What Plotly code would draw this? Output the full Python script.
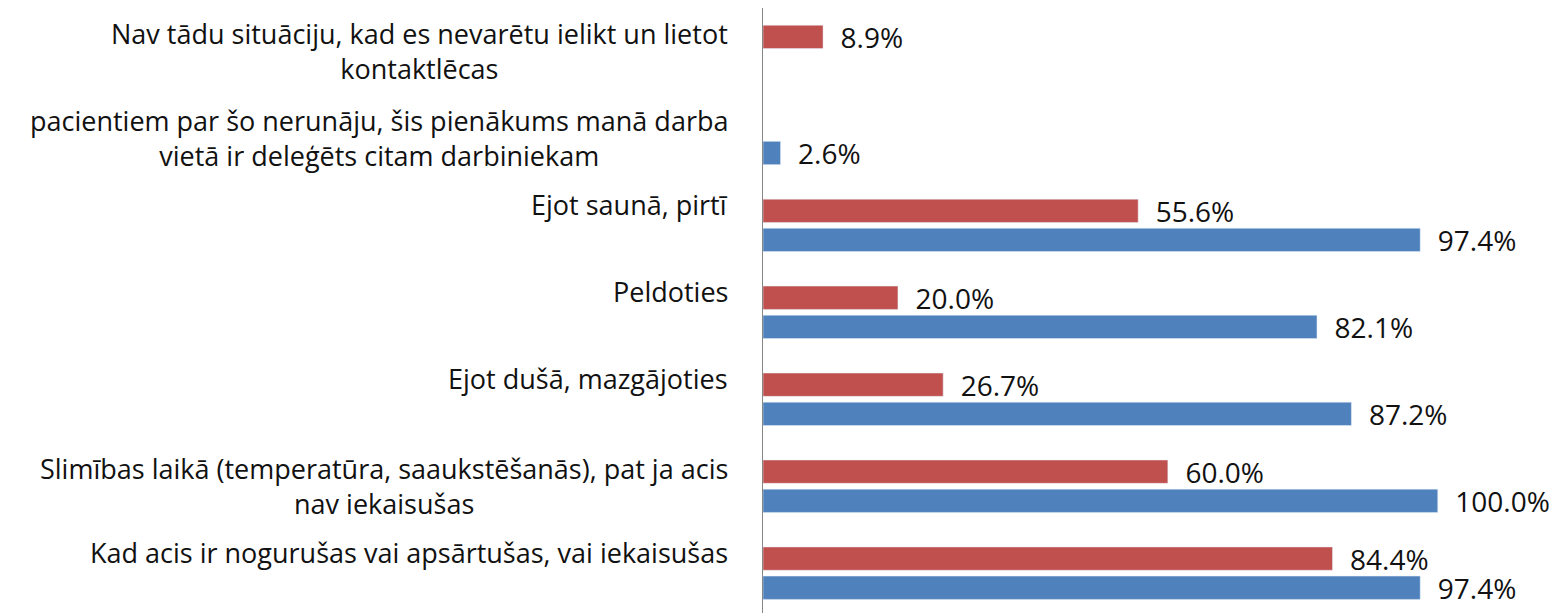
import plotly.graph_objects as go

categories = [
    "Kad acis ir nogurušas vai apsārtušas, vai iekaisušas",
    "Slimības laikā (temperatūra, saaukstēšanās), pat ja acis<br>nav iekaisušas",
    "Ejot dušā, mazgājoties",
    "Peldoties",
    "Ejot saunā, pirtī",
    "pacientiem par šo nerunāju, šis pienākums manā darba<br>vietā ir deleģēts citam darbiniekam",
    "Nav tādu situāciju, kad es nevarētu ielikt un lietot<br>kontaktlēcas",
]
red_values = [84.4, 60.0, 26.7, 20.0, 55.6, None, 8.9]
blue_values = [97.4, 100.0, 87.2, 82.1, 97.4, 2.6, None]

RED = "#C0504D"
BLUE = "#4F81BD"
FONT = "Open Sans, sans-serif"
TXT = "#111111"

ypos = list(range(len(categories)))

def labels(vals):
    return ["" if v is None else "\u00a0\u00a0%.1f%%" % v for v in vals]

fig = go.Figure()
fig.add_trace(go.Bar(
    y=ypos, x=blue_values, orientation="h", marker=dict(color=BLUE),
    text=labels(blue_values), textposition="outside", cliponaxis=False,
    constraintext="none",
    textfont=dict(family=FONT, size=28, color=TXT), name="blue",
))
fig.add_trace(go.Bar(
    y=ypos, x=red_values, orientation="h", marker=dict(color=RED),
    text=labels(red_values), textposition="outside", cliponaxis=False,
    constraintext="none",
    textfont=dict(family=FONT, size=28, color=TXT), name="red",
))

for i, c in enumerate(categories):
    two = "<br>" in c
    fig.add_annotation(
        x=0, xref="x", y=i, yref="y", text=c, showarrow=False,
        xanchor="right", yanchor="middle", align="center",
        xshift=-33, yshift=0 if two else 21,
        font=dict(family=FONT, size=27, color=TXT),
    )

fig.update_layout(
    width=1562, height=613,
    margin=dict(l=755, r=0, t=0, b=0),
    paper_bgcolor="white", plot_bgcolor="white",
    barmode="group", bargap=0.33, bargroupgap=0.2,
    showlegend=False,
)
fig.update_xaxes(range=[0, 119.6], visible=False, showgrid=False, zeroline=False)
fig.update_yaxes(range=[-0.55, 6.5], showticklabels=False, showgrid=False, zeroline=False,
                 showline=True, linecolor="#868686", linewidth=1, ticks="", automargin=False)

fig.write_html("out.html")
